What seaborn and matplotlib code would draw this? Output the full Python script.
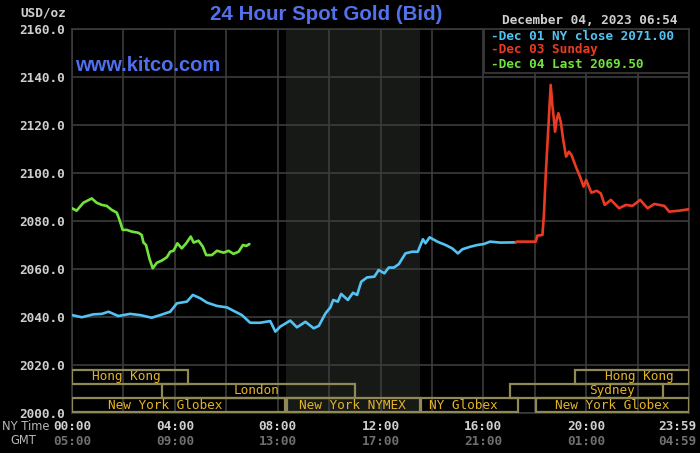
import pandas as pd
import matplotlib
matplotlib.use("Agg")
import matplotlib.pyplot as plt
import seaborn as sns
from matplotlib.patches import Rectangle

# hours after 00:00 NY time, price in USD/oz
green_hours = [0.0, 0.18, 0.44, 0.77, 0.96, 1.16, 1.35, 1.55, 1.74, 1.85, 1.97, 2.13,
               2.32, 2.58, 2.71, 2.78, 2.88, 3.01, 3.14, 3.30, 3.49, 3.69, 3.82, 3.95,
               4.10, 4.27, 4.44, 4.62, 4.73, 4.92, 5.09, 5.22, 5.44, 5.64, 5.90, 6.09,
               6.28, 6.48, 6.65, 6.78, 6.90]
green_price = [2085.3, 2084.3, 2087.6, 2089.4, 2087.6, 2086.7, 2086.3, 2084.6, 2083.5,
               2080.4, 2076.3, 2076.3, 2075.6, 2075.1, 2074.2, 2071.0, 2070.0, 2064.4,
               2060.3, 2062.6, 2063.5, 2064.9, 2067.2, 2067.6, 2070.7, 2068.6, 2070.7,
               2073.5, 2071.0, 2071.8, 2069.3, 2065.8, 2065.8, 2067.6, 2066.8, 2067.6,
               2066.3, 2067.2, 2070.0, 2069.6, 2070.4]

blue_hours = [0.0, 0.38, 0.83, 1.16, 1.42, 1.80, 2.26, 2.65, 3.10, 3.43, 3.82, 4.08,
              4.47, 4.70, 4.99, 5.25, 5.64, 6.03, 6.28, 6.61, 6.93, 7.32, 7.71, 7.91,
              8.10, 8.49, 8.75, 9.08, 9.40, 9.60, 9.86, 10.05, 10.16, 10.34, 10.47,
              10.73, 10.93, 11.09, 11.25, 11.48, 11.76, 11.93, 12.15, 12.32, 12.52,
              12.71, 12.97, 13.23, 13.45, 13.65, 13.75, 13.91, 14.21, 14.53, 14.79,
              15.01, 15.18, 15.50, 15.77, 16.02, 16.26, 16.67, 17.26]
blue_price = [2040.8, 2039.9, 2041.1, 2041.3, 2042.2, 2040.4, 2041.3, 2040.8, 2039.7,
              2040.8, 2042.2, 2045.7, 2046.4, 2049.2, 2047.8, 2046.0, 2044.6, 2044.0,
              2042.6, 2040.8, 2037.6, 2037.6, 2038.3, 2033.9, 2036.0, 2038.5, 2035.7,
              2038.0, 2035.3, 2036.3, 2041.5, 2044.0, 2047.1, 2046.4, 2049.6, 2047.1,
              2050.1, 2049.2, 2054.7, 2056.5, 2056.8, 2059.6, 2058.2, 2060.6, 2060.6,
              2062.0, 2066.5, 2067.2, 2067.2, 2072.4, 2070.7, 2073.2, 2071.4, 2070.0,
              2068.6, 2066.5, 2068.2, 2069.3, 2070.0, 2070.4, 2071.4, 2071.0, 2071.1]

red_hours = [17.26, 17.30, 18.04, 18.10, 18.30, 18.36, 18.43, 18.52, 18.62, 18.69,
             18.72, 18.79, 18.85, 18.92, 19.01, 19.12, 19.22, 19.33, 19.43, 19.60,
             19.76, 19.90, 20.00, 20.20, 20.41, 20.57, 20.72, 20.96, 21.28, 21.54,
             21.80, 22.10, 22.39, 22.65, 23.04, 23.23, 23.62, 24.0]
red_price = [2071.1, 2071.4, 2071.4, 2073.9, 2074.2, 2083.2, 2099.9, 2117.2, 2136.7,
             2127.6, 2124.9, 2117.2, 2122.1, 2124.9, 2121.4, 2113.0, 2106.8, 2108.9,
             2107.5, 2102.6, 2098.5, 2094.3, 2097.1, 2091.8, 2092.6, 2091.5, 2086.7,
             2088.8, 2085.3, 2086.7, 2086.3, 2088.8, 2085.3, 2087.1, 2086.3, 2083.9,
             2084.3, 2084.9]

ny_ticks = [0, 4, 8, 12, 16, 20, 24]
ny_labels = ["00:00", "04:00", "08:00", "12:00", "16:00", "20:00", "23:59"]
gmt_labels = ["05:00", "09:00", "13:00", "17:00", "21:00", "01:00", "04:59"]
y_ticks = [2000, 2020, 2040, 2060, 2080, 2100, 2120, 2140, 2160]

# trading sessions: name, start hour, end hour, row (0 = bottom), label hour
sessions = [
    ("Hong Kong", 0.0, 4.5, 2, 2.13),
    ("London", 3.5, 11.0, 1, 7.17),
    ("New York Globex", 0.0, 8.27, 0, 3.64),
    ("New York NYMEX", 8.36, 13.55, 0, 10.9),
    ("NY Globex", 13.58, 17.35, 0, 15.22),
    ("New York Globex", 18.06, 24.0, 0, 21.0),
    ("Sydney", 17.05, 23.0, 1, 20.99),
    ("Hong Kong", 19.55, 24.0, 2, 22.08),
]
nymex_span = (8.33, 13.55)

legend_lines = ["Dec 01 NY close 2071.00", "Dec 03 Sunday", "Dec 04 Last 2069.50"]
stamp = "December 04, 2023 06:54"

BLUE = "#52c3f2"
RED = "#ea3b22"
GREEN = "#72e33c"
GRID = "#3c3c3c"
SESSION_EDGE = "#8f8a55"
SESSION_TEXT = "#e3b328"
TICK = "#cfcfcf"
MONO = "DejaVu Sans Mono"

sns.set_theme(style="dark", rc={
    "figure.facecolor": "black",
    "axes.facecolor": "black",
    "axes.edgecolor": GRID,
    "grid.color": GRID,
})

fig = plt.figure(figsize=(7.0, 4.53), dpi=100)
ax = fig.add_axes([72 / 700, 1 - 413 / 453, 617 / 700, 384 / 453])

ax.axvspan(*nymex_span, color="#171917", zorder=0, lw=0)

blue_df = pd.DataFrame({"hour": blue_hours, "price": blue_price})
red_df = pd.DataFrame({"hour": red_hours, "price": red_price})
green_df = pd.DataFrame({"hour": green_hours, "price": green_price})
for df, c in [(blue_df, BLUE), (red_df, RED), (green_df, GREEN)]:
    sns.lineplot(data=df, x="hour", y="price", color=c, linewidth=1.9,
                 estimator=None, sort=False, ax=ax, zorder=3)

ax.set_xlim(0, 24)
ax.set_ylim(2000, 2160)
ax.set_xticks(range(0, 25, 2))
ax.set_xticklabels([""] * 13)
ax.set_yticks(y_ticks)
ax.set_yticklabels([f"{v:.1f}" for v in y_ticks], fontfamily=MONO,
                   fontweight="bold", fontsize=9.2, color=TICK)
ax.grid(True, color=GRID, linewidth=1.2)
ax.tick_params(length=0, pad=5)
ax.set_xlabel("")
ax.set_ylabel("")
for s in ax.spines.values():
    s.set_color(GRID)
    s.set_linewidth(1.2)

# x labels in two rows; the last pair is pulled inside the figure
xt = ax.get_xaxis_transform()
for t, ny, gmt in zip(ny_ticks, ny_labels, gmt_labels):
    lx = t if t < 24 else 23.53
    ax.text(lx, -0.034, ny, transform=xt, ha="center", va="center",
            fontfamily=MONO, fontweight="bold", fontsize=9.2, color=TICK, clip_on=False)
    ax.text(lx, -0.073, gmt, transform=xt, ha="center", va="center",
            fontfamily=MONO, fontweight="bold", fontsize=9.2, color="#6f6f6f", clip_on=False)
fig.text(2 / 700, 1 - 426 / 453, "NY Time", ha="left", va="center",
         fontsize=8.3, color="#b8b8b8", family="DejaVu Sans")
fig.text(10 / 700, 1 - 441 / 453, "GMT", ha="left", va="center",
         fontsize=8.3, color="#b8b8b8", family="DejaVu Sans")
fig.text(66 / 700, 1 - 13 / 453, "USD/oz", ha="right", va="center",
         fontfamily=MONO, fontweight="bold", fontsize=9.2, color=TICK)

# session bands
row_edges = [2000.4, 2006.25, 2012.1, 2017.9]
for name, start, end, row, lx in sessions:
    y0, y1 = row_edges[row], row_edges[row + 1]
    ax.add_patch(Rectangle((start, y0), end - start, y1 - y0, fill=False,
                           edgecolor=SESSION_EDGE, linewidth=1.6, zorder=4))
    ax.text(lx, (y0 + y1) / 2, name, ha="center", va="center", fontfamily=MONO,
            fontsize=9.2, color=SESSION_TEXT, zorder=5)

# titles
fig.text(326 / 700, 1 - 15 / 453, "24 Hour Spot Gold (Bid)", ha="center", va="center",
         fontsize=14.8, color="#5272ec", family="Liberation Sans", fontweight="bold")
ax.text(0.005, 0.905, "www.kitco.com", transform=ax.transAxes, ha="left", va="center",
        fontsize=14.5, color="#4f70ee", family="Liberation Sans", fontweight="bold")
fig.text(677 / 700, 1 - 20 / 453, stamp, ha="right", va="center",
         fontfamily=MONO, fontweight="bold", fontsize=9.2, color=TICK)

# legend box
ax.add_patch(Rectangle((0.668, 0.886), 0.332, 0.114, transform=ax.transAxes,
                       facecolor="black", edgecolor=GRID, linewidth=1.2, zorder=6))
for i, (txt, c) in enumerate(zip(legend_lines, [BLUE, RED, GREEN])):
    y = 1 - (36 + 14 * i - 29) / 384
    ax.text(0.679, y, "-" + txt, transform=ax.transAxes, ha="left", va="center",
            fontfamily=MONO, fontweight="bold", fontsize=9.2, color=c, zorder=7)

fig.savefig("out.png", dpi=100, facecolor="black")
